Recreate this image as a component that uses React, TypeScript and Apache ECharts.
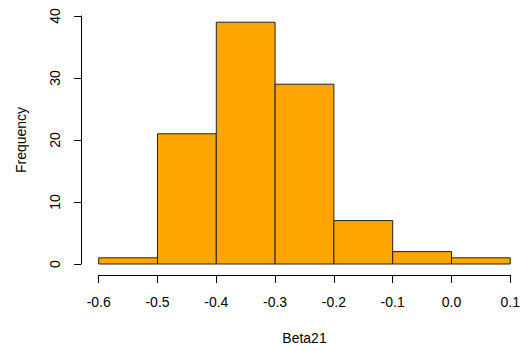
import React, { useEffect, useRef } from "react";
import * as echarts from "echarts";

const binStarts = [-0.6, -0.5, -0.4, -0.3, -0.2, -0.1, 0.0];
const binEnds = [-0.5, -0.4, -0.3, -0.2, -0.1, 0.0, 0.1];
const counts = [1, 21, 39, 29, 7, 2, 1];

export default function App() {
  const ref = useRef<HTMLDivElement>(null);
  useEffect(() => {
    if (!ref.current) return;
    const chart = echarts.init(ref.current, undefined, { renderer: "svg" });
    const data = binStarts.map((s, i) => [s, binEnds[i], counts[i]]);
    const font = "Liberation Sans, Arial, sans-serif";
    chart.setOption({
      animation: false,
      backgroundColor: "#ffffff",
      grid: { left: 98.7, right: 12.3, top: 16, bottom: 85 },
      xAxis: {
        type: "value",
        min: -0.6,
        max: 0.1,
        interval: 0.1,
        offset: 11,
        name: "Beta21",
        nameLocation: "middle",
        nameGap: 56,
        nameTextStyle: { fontFamily: font, fontSize: 14, color: "#000" },
        splitLine: { show: false },
        axisLine: { show: true, onZero: false, lineStyle: { color: "#000", width: 1 } },
        axisTick: { show: true, length: 8, lineStyle: { color: "#000" } },
        axisLabel: {
          fontFamily: font,
          fontSize: 14,
          color: "#000",
          margin: 20,
          formatter: (v: number) => {
            const r = Math.round(v * 10) / 10;
            return (Object.is(r, -0) ? 0 : r).toFixed(1);
          },
        },
      },
      yAxis: {
        type: "value",
        min: 0,
        max: 40,
        interval: 10,
        offset: 17.7,
        name: "Frequency",
        nameLocation: "middle",
        nameGap: 53,
        nameTextStyle: { fontFamily: font, fontSize: 14, color: "#000" },
        splitLine: { show: false },
        axisLine: { show: true, onZero: false, lineStyle: { color: "#000", width: 1 } },
        axisTick: { show: true, length: 7, lineStyle: { color: "#000" } },
        axisLabel: {
          fontFamily: font,
          fontSize: 14,
          color: "#000",
          rotate: 90,
          margin: 19,
        },
      },
      series: [
        {
          type: "custom",
          data,
          encode: { x: [0, 1], y: 2 },
          renderItem: (params: any, api: any) => {
            const p0 = api.coord([api.value(0), api.value(2)]);
            const p1 = api.coord([api.value(1), 0]);
            return {
              type: "rect",
              shape: {
                x: p0[0],
                y: p0[1],
                width: p1[0] - p0[0],
                height: p1[1] - p0[1],
              },
              style: { fill: "#FFA500", stroke: "#222", lineWidth: 1 },
            };
          },
        },
      ],
    });
    return () => chart.dispose();
  }, []);
  return (
    <div
      ref={ref}
      style={{ position: "absolute", left: 0, top: 0, width: 523, height: 350 }}
    />
  );
}
